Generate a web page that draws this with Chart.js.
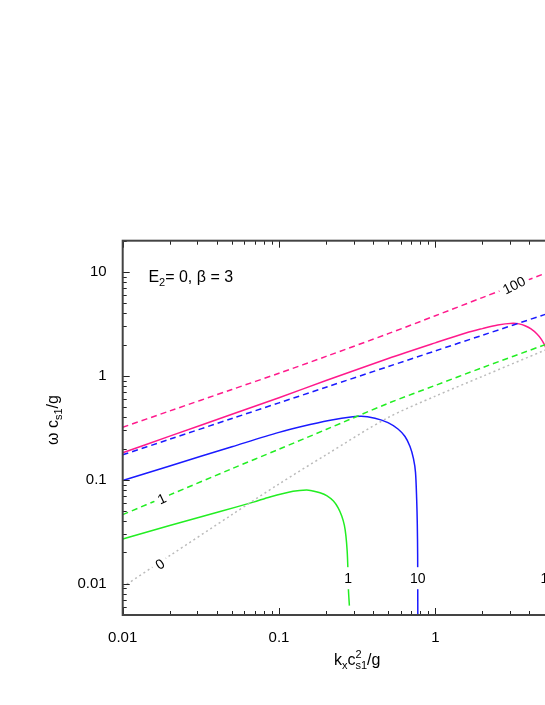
<!DOCTYPE html>
<html>
<head>
<meta charset="utf-8">
<script src="https://cdn.jsdelivr.net/npm/chart.js@4"></script>
<style>
  html, body { margin: 0; padding: 0; overflow: hidden; background: #fff; }
  #wrap { position: relative; width: 620px; height: 705px; }
</style>
</head>
<body>
<div id="wrap"><canvas id="myChart" width="620" height="705"></canvas></div>
<script>
// x: k_x c_s1^2 / g, y: omega c_s1 / g
const kGrid = [0.01, 0.02, 0.05, 0.1, 0.2, 0.5, 1, 2, 5, 10];
const w100Dashed = [0.32, 0.46, 0.74, 1.06, 1.54, 2.55, 3.79, 5.67, 9.66, 14.5];
const w10Dashed = [0.174, 0.246, 0.389, 0.55, 0.778, 1.23, 1.74, 2.46, 3.89, 5.5];
const w1Dashed = [0.0462, 0.0716, 0.128, 0.197, 0.305, 0.545, 0.81, 1.2, 1.99, 2.92];
const w0Dotted = [0.0093, 0.0186, 0.0462, 0.0912, 0.174, 0.398, 0.638, 0.989, 1.76, 2.67];

const k100 = [0.01, 0.02, 0.05, 0.1, 0.2, 0.5, 1, 1.585, 2, 2.51, 3.141, 3.432, 3.749, 4.096,
  4.474, 4.746, 4.961, 5.11, 5.263, 5.341, 5.38, 5.4];
const w100 = [0.182, 0.263, 0.428, 0.617, 0.902, 1.47, 2.08, 2.6, 2.85, 3.09, 3.208, 3.166, 3.042, 2.835,
  2.533, 2.274, 2.032, 1.839, 1.576, 1.269, 0.5, 0.004];

const k10 = [0.01, 0.02, 0.05, 0.1, 0.158, 0.222, 0.33, 0.411, 0.498, 0.577, 0.64, 0.689, 0.725,
  0.747, 0.760, 0.767, 0.771, 0.773];
const w10 = [0.0986, 0.136, 0.208, 0.286, 0.34, 0.379, 0.408, 0.392, 0.355, 0.308, 0.261, 0.209, 0.16,
  0.118, 0.065, 0.0374, 0.0193, 0.0045];

const k1 = [0.01, 0.02, 0.042, 0.0686, 0.0875, 0.123, 0.15, 0.165, 0.183, 0.203, 0.223, 0.239, 0.252,
  0.262, 0.268, 0.273, 0.276, 0.278, 0.282];
const w1 = [0.0269, 0.0363, 0.0495, 0.061, 0.0684, 0.0776, 0.08, 0.0782, 0.0752, 0.0701, 0.0625, 0.0538, 0.0449,
  0.0365, 0.0289, 0.0206, 0.0138, 0.0089, 0.00615];

const xTicks = [0.01, 0.1, 1, 10];
const yTicks = [0.01, 0.1, 1, 10];

// curve labels: text, x value, y value, angle (deg)
const curveLabels = [
  ['100', 3.19, 7.46, -27],
  ['1', 0.0178, 0.0659, -25],
  ['0', 0.0173, 0.0155, -35],
  ['1', 0.277, 0.0113, 0],
  ['10', 0.772, 0.0113, 0],
  ['100', 5.6, 0.0113, 0],
];

const PINK = '#ff1a8c', BLUE = '#1a1aff', GREEN = '#22ee22', GRAY = '#bbbbbb';
const FAM = '"Liberation Sans", Arial, sans-serif';

const pts = (xs, ys) => xs.map((x, i) => ({ x: x, y: ys[i] }));

function line(data, color, dash) {
  return {
    data: data,
    borderColor: color,
    borderWidth: 1.5,
    borderDash: dash || [],
    pointRadius: 0,
    showLine: true,
    tension: 0.3,
  };
}

function drawRich(ctx, parts, x, y) {
  for (const p of parts) {
    if (p.sub) {
      ctx.font = '11px ' + FAM;
      ctx.fillText(p.t, x, y + 4);
      let w = ctx.measureText(p.t).width;
      if (p.sup) {
        ctx.fillText(p.sup, x, y - 7);
        w = Math.max(w, ctx.measureText(p.sup).width);
      }
      x += w;
    } else {
      ctx.font = '16px ' + FAM;
      ctx.fillText(p.t, x, y);
      x += ctx.measureText(p.t).width;
    }
  }
  return x;
}

function richWidth(ctx, parts) {
  ctx.save();
  ctx.globalAlpha = 0;
  const w = drawRich(ctx, parts, 0, 0);
  ctx.restore();
  return w;
}

const frame = {
  id: 'frame',
  afterDatasetsDraw(chart) {
    const { ctx, chartArea: a, scales: { x, y } } = chart;
    ctx.save();

    // labels sitting on the curves
    ctx.font = '14px ' + FAM;
    ctx.textAlign = 'center';
    ctx.textBaseline = 'middle';
    for (const [t, vx, vy, ang] of curveLabels) {
      const px = x.getPixelForValue(vx), py = y.getPixelForValue(vy);
      const w = ctx.measureText(t).width;
      ctx.save();
      ctx.translate(px, py);
      ctx.rotate(ang * Math.PI / 180);
      ctx.fillStyle = '#fff';
      ctx.fillRect(-w / 2 - 4, -11, w + 8, 22);
      ctx.fillStyle = '#000';
      ctx.fillText(t, 0, 1);
      ctx.restore();
    }

    // inward ticks
    ctx.strokeStyle = '#222';
    ctx.lineWidth = 1;
    ctx.beginPath();
    for (let e = -3; e <= 1; e++) {
      for (let m = 1; m <= 9; m++) {
        const v = m * Math.pow(10, e);
        const len = m === 1 ? 7 : 4;
        if (v >= x.min * 0.999 && v <= x.max * 1.001) {
          const p = Math.round(x.getPixelForValue(v)) + 0.5;
          ctx.moveTo(p, a.bottom); ctx.lineTo(p, a.bottom - len);
          ctx.moveTo(p, a.top); ctx.lineTo(p, a.top + len);
        }
        if (v >= y.min * 0.999 && v <= y.max * 1.001) {
          const p = Math.round(y.getPixelForValue(v)) + 0.5;
          ctx.moveTo(a.left, p); ctx.lineTo(a.left + len, p);
          ctx.moveTo(a.right, p); ctx.lineTo(a.right - len, p);
        }
      }
    }
    ctx.stroke();

    ctx.strokeStyle = '#444';
    ctx.lineWidth = 2;
    ctx.strokeRect(a.left, a.top, a.right - a.left, a.bottom - a.top);

    // annotation and axis titles
    ctx.fillStyle = '#000';
    ctx.textAlign = 'left';
    ctx.textBaseline = 'alphabetic';
    drawRich(ctx, [{ t: 'E' }, { t: '2', sub: true }, { t: '= 0, \u03b2 = 3' }],
      x.getPixelForValue(0.0146), y.getPixelForValue(7.93));

    const xt = [{ t: 'k' }, { t: 'x', sub: true }, { t: 'c' }, { t: 's1', sub: true, sup: '2' }, { t: '/g' }];
    drawRich(ctx, xt, (a.left + a.right) / 2 - richWidth(ctx, xt) / 2, a.bottom + 50);

    const yt = [{ t: '\u03c9 c' }, { t: 's1', sub: true }, { t: '/g' }];
    ctx.save();
    ctx.translate(58, 420);
    ctx.rotate(-Math.PI / 2);
    drawRich(ctx, yt, -richWidth(ctx, yt) / 2, 0);
    ctx.restore();

    ctx.restore();
  },
};

const ctx = document.getElementById('myChart');

new Chart(ctx, {
  type: 'scatter',
  data: {
    datasets: [
      line(pts(kGrid, w0Dotted), GRAY, [2, 3]),
      line(pts(kGrid, w1Dashed), GREEN, [6, 4]),
      line(pts(kGrid, w10Dashed), BLUE, [6, 4]),
      line(pts(kGrid, w100Dashed), PINK, [6, 4]),
      line(pts(k1, w1), GREEN),
      line(pts(k10, w10), BLUE),
      line(pts(k100, w100), PINK),
    ],
  },
  options: {
    responsive: false,
    animation: false,
    devicePixelRatio: 1,
    layout: { padding: { top: 240.7, right: 28.4, left: 0, bottom: 0 } },
    plugins: { legend: { display: false }, tooltip: { enabled: false } },
    scales: {
      x: {
        type: 'logarithmic',
        min: 0.01,
        max: 10,
        grid: { display: false },
        border: { display: false },
        afterBuildTicks: (s) => { s.ticks = xTicks.map((v) => ({ value: v })); },
        afterFit: (s) => { s.height = 90; },
        ticks: {
          autoSkip: false,
          maxRotation: 0,
          padding: 6,
          color: '#000',
          font: { family: FAM, size: 15 },
          callback: (v) => String(v),
        },
      },
      y: {
        type: 'logarithmic',
        min: 0.005,
        max: 20,
        grid: { display: false },
        border: { display: false },
        afterBuildTicks: (s) => { s.ticks = yTicks.map((v) => ({ value: v })); },
        afterFit: (s) => { s.width = 122.7; },
        ticks: {
          autoSkip: false,
          padding: 8,
          color: '#000',
          font: { family: FAM, size: 15 },
          callback: (v) => String(v),
        },
      },
    },
  },
  plugins: [frame],
});
</script>
</body>
</html>
